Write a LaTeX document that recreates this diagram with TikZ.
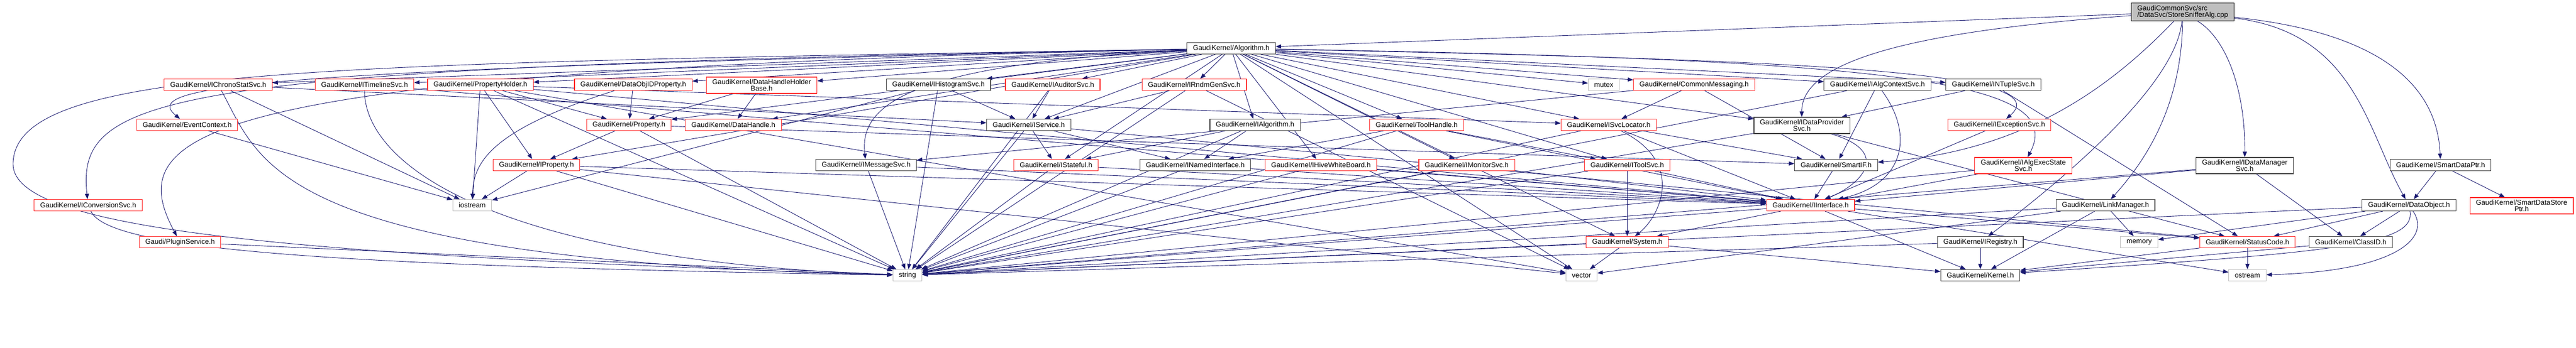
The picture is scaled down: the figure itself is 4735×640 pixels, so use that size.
\documentclass[tikz,border=0pt]{standalone}
\usepackage{fontspec}
\setmainfont{Liberation Sans}
\usetikzlibrary{arrows.meta}
\definecolor{edgeblue}{RGB}{25,25,112}
\definecolor{boxgray}{RGB}{191,191,191}
\definecolor{boxblack}{RGB}{64,64,64}
\definecolor{boxred}{RGB}{255,40,40}
\pgfdeclarelayer{edges}
\pgfsetlayers{edges,main}

\begin{document}
\begin{tikzpicture}[x=1pt,y=-1pt,
    hnode/.style={draw=boxblack,line width=1.1pt,fill=white,inner xsep=11pt,inner ysep=4pt,minimum height=21pt,align=center,font=\fontsize{12.9}{12.5}\selectfont},
    rnode/.style={hnode,draw=boxred},
    gnode/.style={hnode,draw=boxgray},
    dep/.style={draw=edgeblue,line width=0.9pt,-{Triangle[length=10pt,width=7.5pt]}}]
    \useasboundingbox (0,0) rectangle (4735,640);

    % file and first level
    \node[hnode,fill=boxgray,draw=black,align=left] (ss) at (4012,22) {GaudiCommonSvc/src\\/DataSvc/StoreSnifferAlg.cpp};
    \node[hnode] (alg) at (2263,89) {GaudiKernel/Algorithm.h};

    % row 2
    \node[rnode] (chrono) at (401,156) {GaudiKernel/IChronoStatSvc.h};
    \node[rnode] (timeline) at (670,156) {GaudiKernel/ITimelineSvc.h};
    \node[rnode] (propholder) at (883,156) {GaudiKernel/PropertyHolder.h};
    \node[rnode] (objidprop) at (1164,156) {GaudiKernel/DataObjIDProperty.h};
    \node[rnode] (dhholder) at (1400,157) {GaudiKernel/DataHandleHolder\\Base.h};
    \node[hnode] (histo) at (1725,156) {GaudiKernel/IHistogramSvc.h};
    \node[rnode] (auditor) at (1935,156) {GaudiKernel/IAuditorSvc.h};
    \node[rnode] (rndm) at (2195,156) {GaudiKernel/IRndmGenSvc.h};
    \node[gnode] (mutex) at (2948,156) {mutex};
    \node[rnode] (commsg) at (3114,156) {GaudiKernel/CommonMessaging.h};
    \node[hnode] (algctx) at (3451,156) {GaudiKernel/IAlgContextSvc.h};
    \node[hnode] (ntuple) at (3664,156) {GaudiKernel/INTupleSvc.h};

    % row 3
    \node[rnode] (evtctx) at (344,230) {GaudiKernel/EventContext.h};
    \node[rnode] (prop) at (1156,230) {GaudiKernel/Property.h};
    \node[rnode] (dhandle) at (1348,230) {GaudiKernel/DataHandle.h};
    \node[hnode] (service) at (1891,230) {GaudiKernel/IService.h};
    \node[hnode] (ialg) at (2307,230) {GaudiKernel/IAlgorithm.h};
    \node[rnode] (toolh) at (2604,230) {GaudiKernel/ToolHandle.h};
    \node[rnode] (svcloc) at (2957,230) {GaudiKernel/ISvcLocator.h};
    \node[hnode] (dataprov) at (3312,231) {GaudiKernel/IDataProvider\\Svc.h};
    \node[rnode] (excsvc) at (3675,230) {GaudiKernel/IExceptionSvc.h};

    % row 4
    \node[rnode] (iprop) at (986,304) {GaudiKernel/IProperty.h};
    \node[hnode] (msgsvc) at (1592,304) {GaudiKernel/IMessageSvc.h};
    \node[rnode] (stateful) at (1941,304) {GaudiKernel/IStateful.h};
    \node[hnode] (named) at (2197,304) {GaudiKernel/INamedInterface.h};
    \node[rnode] (hive) at (2428,304) {GaudiKernel/IHiveWhiteBoard.h};
    \node[rnode] (monitor) at (2696,304) {GaudiKernel/IMonitorSvc.h};
    \node[rnode] (toolsvc) at (2991,304) {GaudiKernel/IToolSvc.h};
    \node[hnode] (smartif) at (3375,304) {GaudiKernel/SmartIF.h};
    \node[rnode] (execstate) at (3719,305) {GaudiKernel/IAlgExecState\\Svc.h};
    \node[hnode] (datamgr) at (4126,305) {GaudiKernel/IDataManager\\Svc.h};
    \node[hnode] (smartptr) at (4486,304) {GaudiKernel/SmartDataPtr.h};

    % row 5
    \node[rnode] (convsvc) at (162,378) {GaudiKernel/IConversionSvc.h};
    \node[gnode] (iostream) at (868,378) {iostream};
    \node[rnode] (iface) at (3328,378) {GaudiKernel/IInterface.h};
    \node[hnode] (linkmgr) at (3870,378) {GaudiKernel/LinkManager.h};
    \node[hnode] (dataobj) at (4428,378) {GaudiKernel/DataObject.h};
    \node[rnode] (storeptr) at (4635,379) {GaudiKernel/SmartDataStore\\Ptr.h};

    % row 6
    \node[rnode] (plugin) at (331,446) {Gaudi/PluginService.h};
    \node[rnode] (system) at (2991,446) {GaudiKernel/System.h};
    \node[hnode] (registry) at (3640,446) {GaudiKernel/IRegistry.h};
    \node[gnode] (memory) at (3932,446) {memory};
    \node[rnode] (statcode) at (4131,446) {GaudiKernel/StatusCode.h};
    \node[hnode] (classid) at (4321,446) {GaudiKernel/ClassID.h};

    % row 7
    \node[gnode] (string) at (1668,507) {string};
    \node[gnode] (vector) at (2907,507) {vector};
    \node[hnode] (kernel) at (3640,507) {GaudiKernel/Kernel.h};
    \node[gnode] (ostream) at (4131,507) {ostream};

    \begin{pgfonlayer}{edges}
    % StoreSnifferAlg.cpp
    \draw [dep] (ss) -- (alg);
    \draw [dep] (ss) .. controls (3480,60) and (3311,120) .. (dataprov);
    \draw [dep] (ss) .. controls (4090,70) and (4127,160) .. (datamgr);
    \draw [dep] (ss) .. controls (4000,160) and (3780,340) .. (registry);
    \draw [dep] (ss) .. controls (4010,200) and (3940,300) .. (linkmgr);
    \draw [dep] (ss) .. controls (3880,160) and (3720,280) .. (smartif);
    \draw [dep] (ss) .. controls (4380,60) and (4480,160) .. (smartptr);
    \draw [dep] (ss) .. controls (4330,60) and (4350,240) .. (dataobj);

    % Algorithm.h
    \draw [dep] (alg) -- (chrono);
    \draw [dep] (alg) -- (timeline);
    \draw [dep] (alg) -- (propholder);
    \draw [dep] (alg) -- (objidprop);
    \draw [dep] (alg) -- (dhholder);
    \draw [dep] (alg) -- (histo);
    \draw [dep] (alg) -- (auditor);
    \draw [dep] (alg) -- (rndm);
    \draw [dep] (alg) -- (mutex);
    \draw [dep] (alg) -- (commsg);
    \draw [dep] (alg) -- (algctx);
    \draw [dep] (alg) -- (ntuple);
    \draw [dep] (alg) .. controls (420,128) and (260,160) .. (evtctx);
    \draw [dep] (alg) -- (prop);
    \draw [dep] (alg) -- (dhandle);
    \draw [dep] (alg) -- (service);
    \draw [dep] (alg) -- (ialg);
    \draw [dep] (alg) -- (toolh);
    \draw [dep] (alg) -- (svcloc);
    \draw [dep] (alg) -- (dataprov);
    \draw [dep] (alg) .. controls (3300,110) and (3790,130) .. (excsvc);
    \draw [dep] (alg) -- (iprop);
    \draw [dep] (alg) .. controls (1650,118) and (1580,200) .. (msgsvc);
    \draw [dep] (alg) -- (stateful);
    \draw [dep] (alg) -- (hive);
    \draw [dep] (alg) -- (monitor);
    \draw [dep] (alg) -- (toolsvc);
    \draw [dep] (alg) .. controls (3500,110) and (3800,150) .. (execstate);
    \draw [dep] (alg) .. controls (300,124) and (140,170) .. (convsvc);
    \draw [dep] (alg) .. controls (360,130) and (220,240) .. (plugin);
    \draw [dep] (alg) -- (system);
    \draw [dep] (alg) .. controls (600,118) and (30,120) .. (24,300) .. controls (18,420) and (500,470) .. (string);
    \draw [dep] (alg) -- (vector);

    % second row
    \draw [dep] (chrono) -- (service);
    \draw [dep] (chrono) -- (iostream);
    \draw [dep] (chrono) .. controls (480,300) and (500,480) .. (string);
    \draw [dep] (timeline) -- (iface);
    \draw [dep] (timeline) .. controls (670,300) and (900,480) .. (string);
    \draw [dep] (propholder) -- (iprop);
    \draw [dep] (propholder) -- (prop);
    \draw [dep] (propholder) -- (iostream);
    \draw [dep] (propholder) -- (svcloc);
    \draw [dep] (propholder) -- (iface);
    \draw [dep] (propholder) -- (string);
    \draw [dep] (propholder) -- (vector);
    \draw [dep] (objidprop) -- (prop);
    \draw [dep] (objidprop) .. controls (900,240) and (870,300) .. (iostream);
    \draw [dep] (dhholder) -- (prop);
    \draw [dep] (dhholder) -- (dhandle);
    \draw [dep] (histo) -- (service);
    \draw [dep] (histo) -- (iostream);
    \draw [dep] (histo) -- (string);
    \draw [dep] (auditor) -- (service);
    \draw [dep] (auditor) -- (string);
    \draw [dep] (rndm) -- (service);
    \draw [dep] (rndm) -- (string);
    \draw [dep] (rndm) -- (vector);
    \draw [dep] (commsg) -- (msgsvc);
    \draw [dep] (commsg) -- (svcloc);
    \draw [dep] (commsg) -- (smartif);
    \draw [dep] (algctx) -- (smartif);
    \draw [dep] (algctx) .. controls (3520,250) and (3500,340) .. (iface);
    \draw [dep] (algctx) -- (string);
    \draw [dep] (ntuple) -- (dataprov);
    \draw [dep] (ntuple) -- (statcode);

    % third row
    \draw [dep] (evtctx) -- (iostream);
    \draw [dep] (prop) -- (iprop);
    \draw [dep] (prop) -- (smartif);
    \draw [dep] (prop) -- (string);
    \draw [dep] (service) -- (stateful);
    \draw [dep] (service) -- (named);
    \draw [dep] (service) -- (statcode);
    \draw [dep] (service) -- (string);
    \draw [dep] (ialg) -- (stateful);
    \draw [dep] (ialg) -- (named);
    \draw [dep] (ialg) -- (string);
    \draw [dep] (toolh) -- (named);
    \draw [dep] (toolh) -- (toolsvc);
    \draw [dep] (toolh) -- (iface);
    \draw [dep] (toolh) -- (string);
    \draw [dep] (svcloc) -- (iface);
    \draw [dep] (svcloc) -- (smartif);
    \draw [dep] (svcloc) .. controls (3100,300) and (3050,400) .. (system);
    \draw [dep] (svcloc) -- (string);
    \draw [dep] (dataprov) .. controls (3480,280) and (3420,340) .. (iface);
    \draw [dep] (dataprov) -- (statcode);
    \draw [dep] (dataprov) -- (string);
    \draw [dep] (excsvc) -- (iface);

    % fourth row
    \draw [dep] (iprop) -- (iface);
    \draw [dep] (iprop) -- (iostream);
    \draw [dep] (iprop) -- (string);
    \draw [dep] (iprop) -- (vector);
    \draw [dep] (msgsvc) -- (iface);
    \draw [dep] (msgsvc) -- (string);
    \draw [dep] (stateful) -- (iface);
    \draw [dep] (stateful) -- (string);
    \draw [dep] (named) -- (iface);
    \draw [dep] (named) -- (string);
    \draw [dep] (hive) -- (iface);
    \draw [dep] (hive) -- (string);
    \draw [dep] (monitor) -- (iface);
    \draw [dep] (monitor) -- (string);
    \draw [dep] (toolsvc) -- (system);
    \draw [dep] (toolsvc) -- (iface);
    \draw [dep] (toolsvc) -- (string);
    \draw [dep] (smartif) -- (iface);
    \draw [dep] (execstate) -- (iface);
    \draw [dep] (execstate) -- (string);
    \draw [dep] (datamgr) -- (iface);
    \draw [dep] (datamgr) -- (classid);
    \draw [dep] (datamgr) -- (string);
    \draw [dep] (smartptr) -- (dataobj);
    \draw [dep] (smartptr) -- (storeptr);

    % fifth row
    \draw [dep] (convsvc) .. controls (200,460) and (600,490) .. (string);
    \draw [dep] (iface) -- (system);
    \draw [dep] (iface) -- (statcode);
    \draw [dep] (iface) -- (kernel);
    \draw [dep] (iface) -- (ostream);
    \draw [dep] (iface) -- (string);
    \draw [dep] (linkmgr) -- (memory);
    \draw [dep] (linkmgr) -- (kernel);
    \draw [dep] (linkmgr) -- (string);
    \draw [dep] (linkmgr) -- (vector);
    \draw [dep] (dataobj) -- (classid);
    \draw [dep] (dataobj) -- (statcode);
    \draw [dep] (dataobj) -- (memory);
    \draw [dep] (dataobj) .. controls (4440,450) and (4300,465) .. (kernel);
    \draw [dep] (dataobj) .. controls (4470,440) and (4400,500) .. (ostream);
    \draw [dep] (dataobj) -- (string);

    % sixth row
    \draw [dep] (plugin) -- (string);
    \draw [dep] (system) -- (vector);
    \draw [dep] (system) -- (string);
    \draw [dep] (system) -- (kernel);
    \draw [dep] (registry) -- (kernel);
    \draw [dep] (registry) -- (string);
    \draw [dep] (statcode) -- (ostream);
    \draw [dep] (statcode) -- (kernel);
    \draw [dep] (classid) -- (kernel);
    \end{pgfonlayer}
\end{tikzpicture}
\end{document}
